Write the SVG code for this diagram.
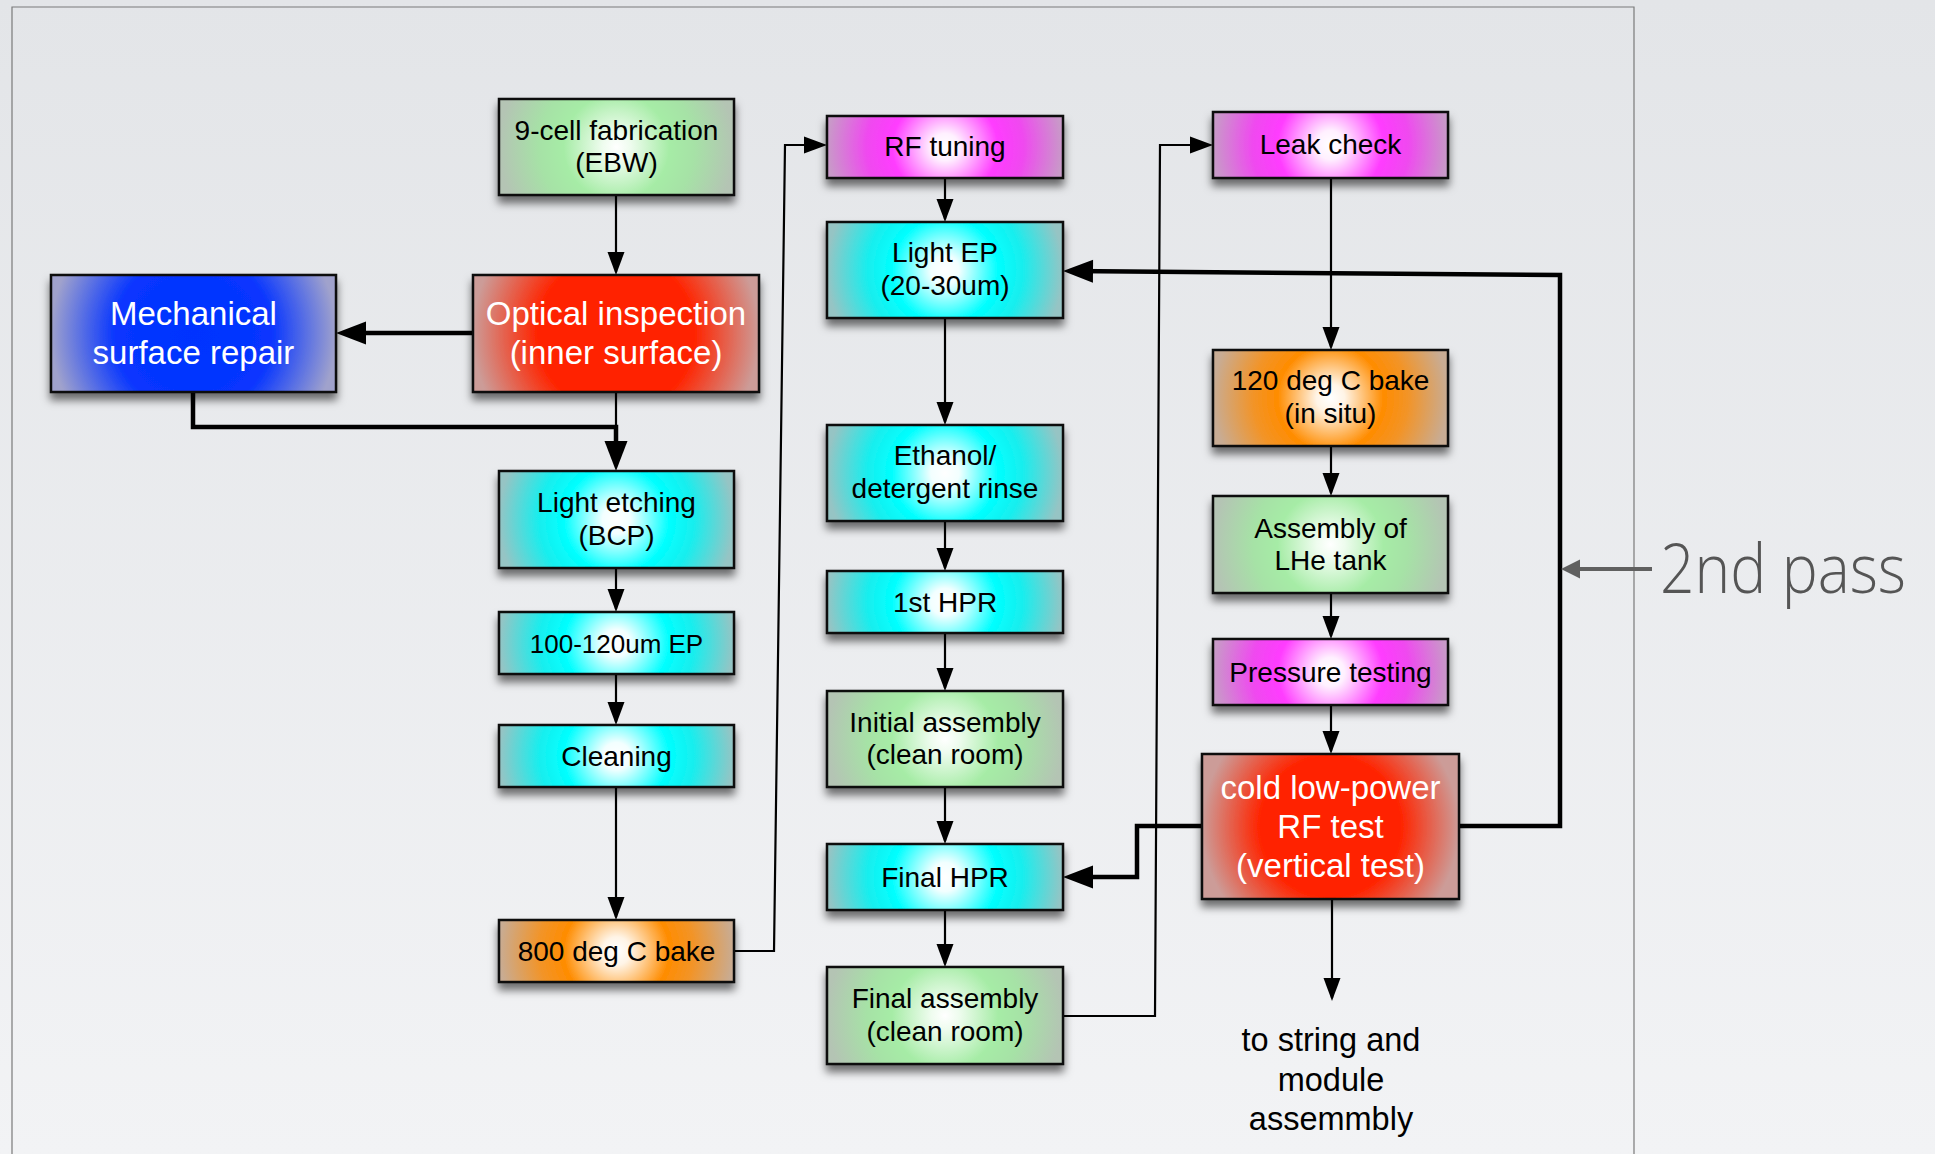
<svg xmlns="http://www.w3.org/2000/svg" xmlns:xlink="http://www.w3.org/1999/xlink" width="1935" height="1154" viewBox="0 0 1935 1154">
<defs>
<linearGradient id="bg" x1="0" y1="0" x2="0" y2="1">
<stop offset="0" stop-color="#e3e5e8"/><stop offset="1" stop-color="#f2f3f5"/>
</linearGradient>
<radialGradient id="cyan"><stop offset="0" stop-color="#ffffff"/><stop offset="0.12" stop-color="#f2ffff"/><stop offset="0.45" stop-color="#00ffff"/><stop offset="0.66" stop-color="#18eeee"/><stop offset="1" stop-color="#96c4c4"/></radialGradient>
<radialGradient id="green"><stop offset="0" stop-color="#ffffff"/><stop offset="0.12" stop-color="#eefcee"/><stop offset="0.45" stop-color="#a6eca6"/><stop offset="0.66" stop-color="#a6e2a6"/><stop offset="1" stop-color="#b4c4b4"/></radialGradient>
<radialGradient id="magenta"><stop offset="0" stop-color="#ffffff"/><stop offset="0.12" stop-color="#fff0ff"/><stop offset="0.45" stop-color="#ff3cff"/><stop offset="0.66" stop-color="#f048f0"/><stop offset="1" stop-color="#c89ac8"/></radialGradient>
<radialGradient id="orange"><stop offset="0" stop-color="#ffffff"/><stop offset="0.12" stop-color="#fff4e6"/><stop offset="0.45" stop-color="#ff8c00"/><stop offset="0.66" stop-color="#f29428"/><stop offset="1" stop-color="#c8ac94"/></radialGradient>
<radialGradient id="red"><stop offset="0" stop-color="#ff2200"/><stop offset="0.55" stop-color="#ff2400"/><stop offset="1" stop-color="#cc9c98"/></radialGradient>
<radialGradient id="blue"><stop offset="0" stop-color="#0033ff"/><stop offset="0.55" stop-color="#0836ff"/><stop offset="1" stop-color="#a0a2cc"/></radialGradient>
<radialGradient id="cyanT" href="#cyan" gradientTransform="translate(0.5 0.5) scale(1 2.45) translate(-0.5 -0.5)"/>
<radialGradient id="cyanS" href="#cyan" gradientTransform="translate(0.5 0.5) scale(1 3.65) translate(-0.5 -0.5)"/>
<radialGradient id="greenT" href="#green" gradientTransform="translate(0.5 0.5) scale(1 2.45) translate(-0.5 -0.5)"/>
<radialGradient id="magentaS" href="#magenta" gradientTransform="translate(0.5 0.5) scale(1 3.65) translate(-0.5 -0.5)"/>
<radialGradient id="orangeS" href="#orange" gradientTransform="translate(0.5 0.5) scale(1 3.8) translate(-0.5 -0.5)"/>
<radialGradient id="orangeT" href="#orange" gradientTransform="translate(0.5 0.5) scale(1 2.45) translate(-0.5 -0.5)"/>
<radialGradient id="redW" href="#red" gradientTransform="translate(0.5 0.5) scale(1 2.44) translate(-0.5 -0.5)"/>
<radialGradient id="redC" href="#red" gradientTransform="translate(0.5 0.5) scale(1 1.77) translate(-0.5 -0.5)"/>
<radialGradient id="blueW" href="#blue" gradientTransform="translate(0.5 0.5) scale(1 2.44) translate(-0.5 -0.5)"/>
<filter id="shadow" x="-10%" y="-20%" width="120%" height="160%">
<feDropShadow dx="0" dy="7" stdDeviation="4.5" flood-color="#000" flood-opacity="0.55"/>
</filter>
<marker id="ah" markerUnits="userSpaceOnUse" markerWidth="23" markerHeight="17" refX="20" refY="8.5" orient="auto" overflow="visible">
<path d="M0,0 L23,8.5 L0,17 z" fill="#000"/>
</marker>
<marker id="ahT" markerUnits="userSpaceOnUse" markerWidth="30" markerHeight="23" refX="22" refY="11.5" orient="auto" overflow="visible">
<path d="M0,0 L30,11.5 L0,23 z" fill="#000"/>
</marker>
<marker id="ahG" markerUnits="userSpaceOnUse" markerWidth="19" markerHeight="19" refX="15" refY="9.5" orient="auto" overflow="visible">
<path d="M0,0 L19,9.5 L0,19 z" fill="#606060"/>
</marker>
</defs>
<style>
.box{stroke:#111;stroke-width:2.5;filter:url(#shadow)}
.t{font-family:"Liberation Sans",Arial,sans-serif;font-size:28px;fill:#000;text-anchor:middle}
.tb{font-family:"Liberation Sans",Arial,sans-serif;font-size:33px;fill:#fff;text-anchor:middle}
.thin{fill:none;stroke:#000;stroke-width:2.2}
.thick{fill:none;stroke:#000;stroke-width:4.5}
</style>
<rect x="0" y="0" width="1935" height="1154" fill="url(#bg)"/>
<path d="M12,1154 V7 H1634 V1154" fill="none" stroke="#7a7a7a" stroke-width="1.2"/>

<g id="connectors">
<path class="thin" d="M616,195 V272" marker-end="url(#ah)"/>
<path class="thick" d="M473,333 H344" marker-end="url(#ahT)"/>
<path class="thin" d="M616,392 V427"/>
<path class="thick" d="M193,392 V427 H616 V463" marker-end="url(#ahT)"/>
<path class="thin" d="M616,568 V609" marker-end="url(#ah)"/>
<path class="thin" d="M616,674 V722" marker-end="url(#ah)"/>
<path class="thin" d="M616,787 V917" marker-end="url(#ah)"/>
<path class="thin" d="M734,951 H774 L785,145 H824" marker-end="url(#ah)"/>
<path class="thin" d="M945,178 V219" marker-end="url(#ah)"/>
<path class="thin" d="M945,318 V422" marker-end="url(#ah)"/>
<path class="thin" d="M945,521 V568" marker-end="url(#ah)"/>
<path class="thin" d="M945,633 V688" marker-end="url(#ah)"/>
<path class="thin" d="M945,787 V841" marker-end="url(#ah)"/>
<path class="thin" d="M945,910 V964" marker-end="url(#ah)"/>
<path class="thin" d="M1063,1016 H1155 L1160,145 H1210" marker-end="url(#ah)"/>
<path class="thin" d="M1331,178 V347" marker-end="url(#ah)"/>
<path class="thin" d="M1331,446 V493" marker-end="url(#ah)"/>
<path class="thin" d="M1331,593 V636" marker-end="url(#ah)"/>
<path class="thin" d="M1331,705 V751" marker-end="url(#ah)"/>
<path class="thin" d="M1332,899 V998" marker-end="url(#ah)"/>
<path class="thick" d="M1202,826 H1137 V877 H1071" marker-end="url(#ahT)"/>
<path class="thick" d="M1459,826 H1560 V275 L1071,271" marker-end="url(#ahT)"/>
<path d="M1652,569 H1565" fill="none" stroke="#606060" stroke-width="4" marker-end="url(#ahG)"/>
</g>

<g id="n-9cell"><rect class="box" x="499" y="99" width="235" height="96" fill="url(#greenT)"/><text class="t" x="616.5" y="139.5">9-cell fabrication</text><text class="t" x="616.5" y="172">(EBW)</text></g>
<g id="n-optical"><rect class="box" x="473" y="275" width="286" height="117" fill="url(#redW)"/><text class="tb" x="616" y="325">Optical inspection</text><text class="tb" x="616" y="364">(inner surface)</text></g>
<g id="n-mech"><rect class="box" x="51" y="275" width="285" height="117" fill="url(#blueW)"/><text class="tb" x="193.5" y="325">Mechanical</text><text class="tb" x="193.5" y="364">surface repair</text></g>
<g id="n-etch"><rect class="box" x="499" y="471" width="235" height="97" fill="url(#cyanT)"/><text class="t" x="616.5" y="512">Light etching</text><text class="t" x="616.5" y="544.5">(BCP)</text></g>
<g id="n-ep"><rect class="box" x="499" y="612" width="235" height="62" fill="url(#cyanS)"/><text class="t" x="616.5" y="652.5" style="font-size:26px">100-120um EP</text></g>
<g id="n-clean"><rect class="box" x="499" y="725" width="235" height="62" fill="url(#cyanS)"/><text class="t" x="616.5" y="765.5">Cleaning</text></g>
<g id="n-bake800"><rect class="box" x="499" y="920" width="235" height="62" fill="url(#orangeS)"/><text class="t" x="616.5" y="960.5">800 deg C bake</text></g>

<g id="n-rftune"><rect class="box" x="827" y="116" width="236" height="62" fill="url(#magentaS)"/><text class="t" x="945" y="156">RF tuning</text></g>
<g id="n-lightep"><rect class="box" x="827" y="222" width="236" height="96" fill="url(#cyanT)"/><text class="t" x="945" y="262">Light EP</text><text class="t" x="945" y="295">(20-30um)</text></g>
<g id="n-ethanol"><rect class="box" x="827" y="425" width="236" height="96" fill="url(#cyanT)"/><text class="t" x="945" y="465">Ethanol/</text><text class="t" x="945" y="498">detergent rinse</text></g>
<g id="n-hpr1"><rect class="box" x="827" y="571" width="236" height="62" fill="url(#cyanS)"/><text class="t" x="945" y="611.5">1st HPR</text></g>
<g id="n-initasm"><rect class="box" x="827" y="691" width="236" height="96" fill="url(#greenT)"/><text class="t" x="945" y="731.5">Initial assembly</text><text class="t" x="945" y="764">(clean room)</text></g>
<g id="n-hprfinal"><rect class="box" x="827" y="844" width="236" height="66" fill="url(#cyanS)"/><text class="t" x="945" y="886.5">Final HPR</text></g>
<g id="n-finasm"><rect class="box" x="827" y="967" width="236" height="97" fill="url(#greenT)"/><text class="t" x="945" y="1008">Final assembly</text><text class="t" x="945" y="1040.5">(clean room)</text></g>

<g id="n-leak"><rect class="box" x="1213" y="112" width="235" height="66" fill="url(#magentaS)"/><text class="t" x="1330.5" y="154">Leak check</text></g>
<g id="n-bake120"><rect class="box" x="1213" y="350" width="235" height="96" fill="url(#orangeT)"/><text class="t" x="1330.5" y="390">120 deg C bake</text><text class="t" x="1330.5" y="423">(in situ)</text></g>
<g id="n-lhe"><rect class="box" x="1213" y="496" width="235" height="97" fill="url(#greenT)"/><text class="t" x="1330.5" y="537.5">Assembly of</text><text class="t" x="1330.5" y="570">LHe tank</text></g>
<g id="n-pressure"><rect class="box" x="1213" y="639" width="235" height="66" fill="url(#magentaS)"/><text class="t" x="1330.5" y="681.5">Pressure testing</text></g>
<g id="n-cold"><rect class="box" x="1202" y="754" width="257" height="145" fill="url(#redC)"/><text class="tb" x="1330.5" y="799">cold low-power</text><text class="tb" x="1330.5" y="838">RF test</text><text class="tb" x="1330.5" y="877">(vertical test)</text></g>

<g id="n-out"><text class="t" x="1331" y="1051" style="font-size:32.5px">to string and</text><text class="t" x="1331" y="1091" style="font-size:32.5px">module</text><text class="t" x="1331" y="1130" style="font-size:32.5px">assemmbly</text></g>
<g id="n-2ndpass"><text x="1660" y="593" font-family="'Open Sans','DejaVu Sans',sans-serif" font-weight="300" font-size="68" fill="#555" textLength="246" lengthAdjust="spacingAndGlyphs">2nd pass</text></g>
</svg>
